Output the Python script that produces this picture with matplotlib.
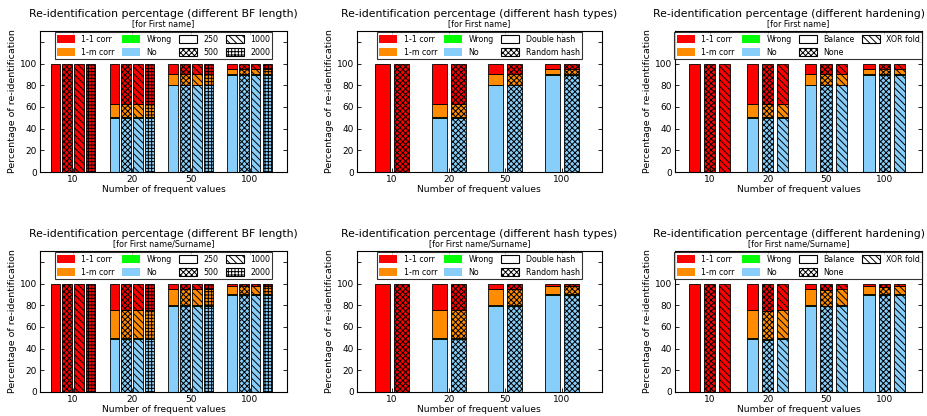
import numpy as np
import matplotlib
matplotlib.use('Agg')
import matplotlib.pyplot as plt
from matplotlib.patches import Patch

plt.rcParams['font.family'] = 'DejaVu Sans'
plt.rcParams['hatch.linewidth'] = 0.7

groups = ['10', '20', '50', '100']

# stacked parts (bottom -> top): No, Wrong, 1-m corr, 1-1 corr
# First name
first_no = [0, 50, 80, 89]
first_wrong = [0, 1, 0.5, 1]
first_1m = [0, 12, 9.5, 5]
first_11 = [100, 37, 10, 5]

# First name/Surname
full_no = [0, 49, 79, 89]
full_wrong = [0, 1, 1, 1]
full_1m = [0, 26, 15, 8]
full_11 = [100, 24, 5, 2]

# First name/Surname, "None" hardening
none_no = [0, 48, 79, 89]
none_wrong = [0, 0.5, 0.5, 1]
none_1m = [0, 26.5, 14.5, 7]
none_11 = [100, 25, 6, 3]

bf_labels = ['250', '500', '1000', '2000']
bf_hatches = ['', 'xxxxxx', '\\\\\\\\\\', '+++++']
hash_labels = ['Double hash', 'Random hash']
hash_hatches = ['', 'xxxxxx']
hard_labels = ['Balance', 'None', 'XOR fold']
hard_hatches = ['', 'xxxxxx', '\\\\\\\\\\']

part_names = ['1-1 corr', '1-m corr', 'Wrong', 'No']
part_colors = {'No': '#87cefa', 'Wrong': '#00ff00', '1-m corr': '#ff8c00', '1-1 corr': '#ff0000'}

fig = plt.figure(figsize=(9.27, 4.16), dpi=100)

cols = [(0.0431, 0.2665), (0.385, 0.264), (0.728, 0.2665)]
rows = [0.5865, 0.0577]
h = 0.339


def draw_panel(ax, series, labels, hatches, width, pitch, title, sub, ncol, xlim, title_right=False):
    x = np.arange(len(groups))
    n = len(labels)
    for i in range(n):
        no, wrong, onem, oneone = series[i]
        pos = x + (i - (n - 1) / 2) * pitch
        bottom = np.zeros(len(groups))
        for vals, name in [(no, 'No'), (wrong, 'Wrong'), (onem, '1-m corr'), (oneone, '1-1 corr')]:
            ax.bar(pos, vals, width, bottom=bottom, color=part_colors[name],
                   edgecolor='black', linewidth=0.6, hatch=hatches[i])
            bottom = bottom + np.array(vals)
    handles = [Patch(facecolor=part_colors[p], edgecolor='none', label=p) for p in part_names]
    handles += [Patch(facecolor='white', edgecolor='black', hatch=hatches[i], linewidth=0.8, label=labels[i])
                for i in range(n)]
    leg = ax.legend(handles=handles, ncol=ncol, loc='upper center', fontsize=5.7,
                    frameon=True, fancybox=False, handlelength=2.3, handleheight=1.2,
                    columnspacing=0.9, handletextpad=0.8, borderaxespad=0.15, labelspacing=0.55,
                    borderpad=0.3)
    leg.get_frame().set_edgecolor('black')
    leg.get_frame().set_linewidth(0.8)
    ax.set_xlim(*xlim)
    ax.set_ylim(0, 130)
    ax.set_yticks([0, 20, 40, 60, 80, 100, 120])
    ax.set_yticklabels(['0', '20', '40', '60', '80', '100', ''])
    ax.set_xticks(x)
    ax.set_xticklabels(groups)
    ax.tick_params(direction='in', top=True, right=True, labelsize=6.5, length=3, width=0.6, pad=2)
    ax.set_xlabel('Number of frequent values', fontsize=6.6, labelpad=1)
    ax.set_ylabel('Percentage of re-identification', fontsize=6.8, labelpad=2)
    for s in ax.spines.values():
        s.set_linewidth(0.8)
    ax.text(0.5, 1.02, sub, transform=ax.transAxes, ha='center', va='bottom', fontsize=5.8)
    if title_right:
        # keep the long title inside the figure
        fig.text(0.998, ax.get_position().y1 + 0.085 * h, title, ha='right', va='bottom', fontsize=7.8)
    else:
        ax.text(0.5, 1.085, title, transform=ax.transAxes, ha='center', va='bottom', fontsize=7.8)


first = (first_no, first_wrong, first_1m, first_11)
full = (full_no, full_wrong, full_1m, full_11)
none_full = (none_no, none_wrong, none_1m, none_11)

for r, (sub, data) in enumerate([('[for First name]', first), ('[for First name/Surname]', full)]):
    ax = fig.add_axes([cols[0][0], rows[r], cols[0][1], h])
    draw_panel(ax, [data] * 4, bf_labels, bf_hatches, 0.16, 0.2,
               'Re-identification percentage (different BF length)', sub, 4, (-0.56, 3.63))
    ax = fig.add_axes([cols[1][0], rows[r], cols[1][1], h])
    draw_panel(ax, [data] * 2, hash_labels, hash_hatches, 0.26, 0.335,
               'Re-identification percentage (different hash types)', sub, 3, (-0.62, 3.7))
    ax = fig.add_axes([cols[2][0], rows[r], cols[2][1], h])
    hard_data = [data, data, data] if r == 0 else [data, none_full, data]
    draw_panel(ax, hard_data, hard_labels, hard_hatches, 0.19, 0.26,
               'Re-identification percentage (different hardening)', sub, 4, (-0.6, 3.65),
               title_right=True)

fig.savefig('out.png', dpi=100)
